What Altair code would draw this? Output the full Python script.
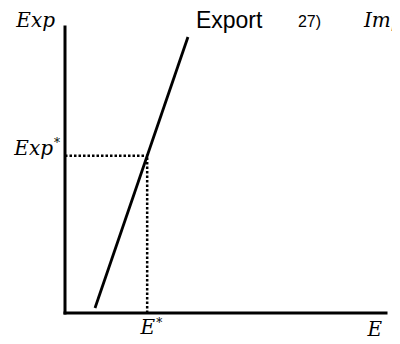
import altair as alt
import pandas as pd

# Export supply line (E on x, Exp on y)
line_e = [0.935, 3.83]
line_exp = [0.175, 9.65]
e_star = 2.56
exp_star = 5.5
e_max = 10
exp_max = 10

xs = alt.Scale(domain=[0, e_max], nice=False, zero=False)
ys = alt.Scale(domain=[0, exp_max], nice=False, zero=False)
X = lambda f: alt.X(f, type="quantitative", scale=xs, axis=None)
Y = lambda f: alt.Y(f, type="quantitative", scale=ys, axis=None)

axes_df = pd.DataFrame({
    "x": [0, 0], "y": [0, 0], "x2": [0, e_max], "y2": [exp_max, 0]
})
axes = alt.Chart(axes_df).mark_rule(color="black", strokeWidth=3, strokeCap="square").encode(
    x=X("x"), y=Y("y"), x2="x2", y2="y2"
)

line_df = pd.DataFrame({"e": line_e, "exp": line_exp})
line = alt.Chart(line_df).mark_line(color="black", strokeWidth=2.8).encode(
    x=X("e"), y=Y("exp")
)

dot_df = pd.DataFrame({
    "x": [0, e_star], "y": [exp_star, 0], "x2": [e_star, e_star], "y2": [exp_star, exp_star]
})
dots = alt.Chart(dot_df).mark_rule(color="black", strokeWidth=2.5, strokeDash=[2.5, 2]).encode(
    x=X("x"), y=Y("y"), x2="x2", y2="y2"
)

serif = dict(font="DejaVu Serif", fontStyle="italic", fontSize=20, color="black")

def label(text, x, y, **kw):
    df = pd.DataFrame({"x": [x], "y": [y], "t": [text]})
    return alt.Chart(df).mark_text(**kw).encode(x=X("x"), y=Y("y"), text="t:N")

texts = [
    label("Exp", 0, exp_max, align="right", baseline="alphabetic", dx=-10, dy=0, **serif),
    label("Exp", 0, exp_star, align="right", baseline="alphabetic", dx=-12, dy=-1, **serif),
    label("*", 0, exp_star, align="left", baseline="top", dx=-11, dy=-18,
          font="DejaVu Serif", fontSize=12, color="black"),
    label("E", e_star, 0, align="right", baseline="alphabetic", dx=8, dy=21, **serif),
    label("*", e_star, 0, align="left", baseline="top", dx=9, dy=5,
          font="DejaVu Serif", fontSize=12, color="black"),
    label("E", e_max, 0, align="right", baseline="alphabetic", dx=-4, dy=23, **serif),
    label("Export", line_e[1], line_exp[1], align="left", baseline="alphabetic", dx=8, dy=-9,
          font="Liberation Sans", fontSize=23, color="black"),
    label("27)", line_e[1], line_exp[1], align="left", baseline="alphabetic", dx=110, dy=-10,
          font="Liberation Sans", fontSize=16, color="black"),
    label("Imp", line_e[1], line_exp[1], align="left", baseline="alphabetic", dx=176, dy=-10, **serif),
]

chart = alt.layer(axes, dots, line, *texts).properties(
    width=321, height=286,
    autosize=alt.AutoSizeParams(type="none"),
    padding={"left": 57, "top": 19, "right": 6, "bottom": 27},
).configure_view(stroke=None)

chart.save("out.html", embed_options={"renderer": "svg", "actions": False})
